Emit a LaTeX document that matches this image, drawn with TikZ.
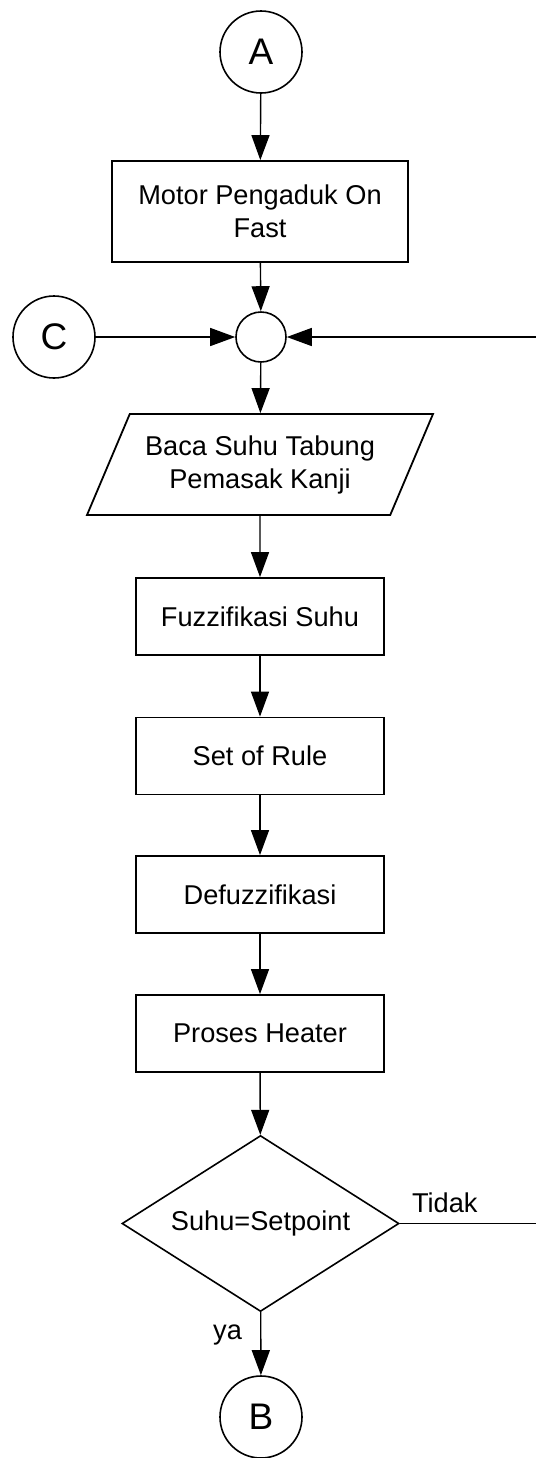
\documentclass[tikz,border=0pt]{standalone}
\usepackage{fontspec}
\setmainfont{Liberation Sans}
\usetikzlibrary{shapes.geometric,arrows.meta,positioning}

\tikzset{
  alur/.style={draw, line width=0.7pt, -{Triangle[length=12.5pt,width=9pt]}},
  garis/.style={draw, line width=0.7pt},
  proses/.style={rectangle, draw, line width=0.9pt, minimum width=124pt, minimum height=38.5pt, align=center, inner sep=2pt},
  konektor/.style={circle, draw, line width=0.8pt, minimum size=41pt, inner sep=0pt, font=\fontsize{18.5}{20}\selectfont},
  masukan/.style={trapezium, trapezium left angle=67, trapezium right angle=113, trapezium stretches body=true, draw, line width=0.9pt, minimum width=173pt, minimum height=50.5pt, align=center, inner xsep=2pt, inner ysep=10.6pt},
  keputusan/.style={diamond, aspect=1.57, draw, line width=0.8pt, minimum width=138.5pt, minimum height=88pt, inner sep=0pt}
}

\begin{document}
\begin{tikzpicture}[x=0.5pt,y=-0.5pt,font=\fontsize{13.6}{16.5}\selectfont]
\useasboundingbox (0,0) rectangle (536,1458);

% konektor dan proses utama
\node[konektor] (A) at (261,52) {A};
\node[proses, minimum width=148pt, minimum height=50.5pt] (motor) at (260,211.5) {Motor Pengaduk On\\Fast};
\node[circle, draw, line width=0.8pt, minimum size=25pt, inner sep=0pt] (gabung) at (261,337) {};
\node[konektor] (C) at (54,337) {C};
\node[masukan] (baca) at (260,464.5) {Baca Suhu Tabung\\Pemasak Kanji};
\node[proses] (fuzz) at (260,616.5) {Fuzzifikasi Suhu};
\node[proses] (rule) at (260,756) {Set of Rule};
\node[proses] (defuzz) at (260,894.5) {Defuzzifikasi};
\node[proses] (heater) at (260,1033.5) {Proses Heater};
\node[keputusan] (cek) at (260.5,1223.5) {Suhu=Setpoint};
\node[konektor] (B) at (261,1417) {B};

% garis balik keluar dari tepi kanan
\coordinate (kanan bawah) at (546,1223.5);
\coordinate (kanan atas) at (546,337);

% panah
\path[alur] (A) -- (motor);
\path[alur] (motor) -- (gabung);
\path[alur] (C) -- (gabung);
\path[alur] (gabung) -- (baca);
\path[alur] (baca) -- (fuzz);
\path[alur] (fuzz) -- (rule);
\path[alur] (rule) -- (defuzz);
\path[alur] (defuzz) -- (heater);
\path[alur] (heater) -- (cek);
\path[alur] (cek) -- (B);
\path[garis] (cek.east) -- (kanan bawah) -- (kanan atas);
\path[alur] (kanan atas) -- (gabung);
\node[anchor=base east] (ya) at (249,1339) {ya};
\node[anchor=base west] (tidak) at (405,1212.5) {Tidak};
\end{tikzpicture}
\end{document}
